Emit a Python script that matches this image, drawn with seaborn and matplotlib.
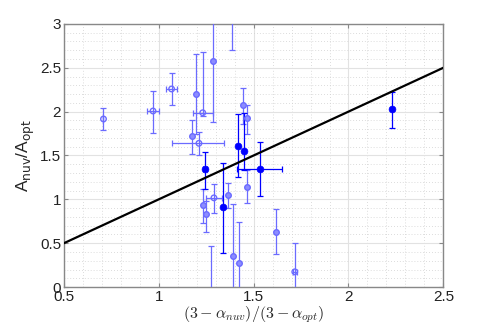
import numpy as np
import pandas as pd
import matplotlib
matplotlib.use("Agg")
import matplotlib.pyplot as plt
import seaborn as sns

# ---- data ----
x      = [0.709, 0.970, 1.068, 1.198, 1.284, 1.388, 1.232, 1.444, 1.467, 1.175, 1.212, 1.417, 1.450,
          1.245, 1.534, 1.466, 1.291, 1.366, 1.337, 1.232, 1.249, 1.617, 1.391, 1.425, 1.717, 1.274, 2.230]
y      = [1.916, 2.007, 2.258, 2.200, 2.577, 3.400, 1.987, 2.070, 1.924, 1.722, 1.639, 1.613, 1.554,
          1.342, 1.351, 1.144, 1.017, 1.049, 0.909, 0.935, 0.832, 0.631, 0.350, 0.277, 0.174, -0.300, 2.026]
y_lo   = [1.790, 1.760, 2.070, 1.750, 1.878, 2.700, 1.950, 1.860, 1.740, 1.520, 1.505, 1.250, 1.330,
          1.120, 1.038, 0.960, 0.847, 0.897, 0.390, 0.730, 0.630, 0.376, -0.300, -0.300, -0.300, -0.800, 1.810]
y_hi   = [2.040, 2.240, 2.440, 2.660, 3.300, 4.000, 2.680, 2.270, 2.080, 1.910, 1.770, 1.970, 1.980,
          1.540, 1.657, 1.330, 1.180, 1.190, 1.417, 1.117, 0.980, 0.890, 0.950, 0.740, 0.500, 0.470, 2.220]
x_lo   = [0.709, 0.936, 1.038, 1.198, 1.284, 1.388, 1.179, 1.444, 1.467, 1.175, 1.072, 1.417, 1.450,
          1.235, 1.413, 1.466, 1.247, 1.366, 1.337, 1.232, 1.249, 1.617, 1.391, 1.425, 1.707, 1.274, 2.230]
x_hi   = [0.709, 0.999, 1.097, 1.198, 1.284, 1.388, 1.287, 1.444, 1.467, 1.175, 1.343, 1.417, 1.450,
          1.255, 1.648, 1.466, 1.331, 1.366, 1.337, 1.232, 1.249, 1.617, 1.391, 1.425, 1.727, 1.274, 2.230]
kind   = ["open", "open", "open", "light", "light", "light", "open", "light", "light", "light", "open",
          "solid", "solid", "solid", "solid", "light", "open", "light", "solid", "light", "light",
          "light", "light", "light", "open", "light", "solid"]
line_x = [0.5, 2.5]
line_y = [0.5, 2.5]

df = pd.DataFrame(dict(x=x, y=y, y_lo=y_lo, y_hi=y_hi, x_lo=x_lo, x_hi=x_hi, kind=kind))

sns.set_style("whitegrid")
plt.rcParams['font.family'] = ['Liberation Sans', 'DejaVu Sans']

fig = plt.figure(figsize=(4.91, 3.27), dpi=100)
ax = fig.add_axes([0.130, 0.122, 0.773, 0.805])

light_c = (0.42, 0.42, 1.0)
solid_c = (0.0, 0.0, 1.0)

for k in ["open", "light", "solid"]:
    d = df[df.kind == k]
    c = solid_c if k == "solid" else light_c
    ax.errorbar(d.x, d.y,
                yerr=[d.y - d.y_lo, d.y_hi - d.y],
                xerr=[d.x - d.x_lo, d.x_hi - d.x],
                fmt="none", ecolor=c, elinewidth=0.9, capsize=2.5, capthick=0.9, zorder=3)

sns.lineplot(x=line_x, y=line_y, ax=ax, color="black", lw=1.6, zorder=4)

d = df[df.kind == "open"]
sns.scatterplot(x=d.x, y=d.y, ax=ax, s=16, facecolor="none", edgecolor=light_c, linewidth=1.0, zorder=5)
d = df[df.kind == "light"]
sns.scatterplot(x=d.x, y=d.y, ax=ax, s=16, color=(0.55, 0.55, 1.0), edgecolor=light_c, linewidth=1.0, zorder=5)
d = df[df.kind == "solid"]
sns.scatterplot(x=d.x, y=d.y, ax=ax, s=24, color=solid_c, edgecolor=solid_c, linewidth=0.5, zorder=6)

ax.set_xlim(0.5, 2.5)
ax.set_ylim(0, 3)
ax.set_xticks(np.arange(0.5, 2.51, 0.5))
ax.set_yticks(np.arange(0, 3.01, 0.5))
ax.set_xticklabels(["0.5", "1", "1.5", "2", "2.5"])
ax.set_yticklabels(["0", "0.5", "1", "1.5", "2", "2.5", "3"])
ax.set_xticks(np.arange(0.5, 2.5, 0.1), minor=True)
ax.set_yticks(np.arange(0, 3.0, 0.1), minor=True)
ax.grid(which="major", color="#e2e2e2", lw=0.8, ls="-")
ax.grid(which="minor", color="#d0d0d0", lw=0.6, ls=(0, (1, 2.5)))
ax.tick_params(which="both", direction="in", length=0, labelsize=11, colors="#222222", pad=2)
ax.tick_params(which="major", length=3, color="#888888", top=True, right=True, bottom=True, left=True)
for s in ax.spines.values():
    s.set_visible(True)
    s.set_color("#888888")
    s.set_linewidth(1.0)

ax.set_xlabel(r"$(3-\alpha_{nuv})/(3-\alpha_{opt})$", fontsize=11.5, math_fontfamily="cm", labelpad=0)
ax.set_ylabel(r"A$_{\rm nuv}$/A$_{\rm opt}$", fontsize=12.5, labelpad=2)

fig.savefig("out.png", dpi=100)
